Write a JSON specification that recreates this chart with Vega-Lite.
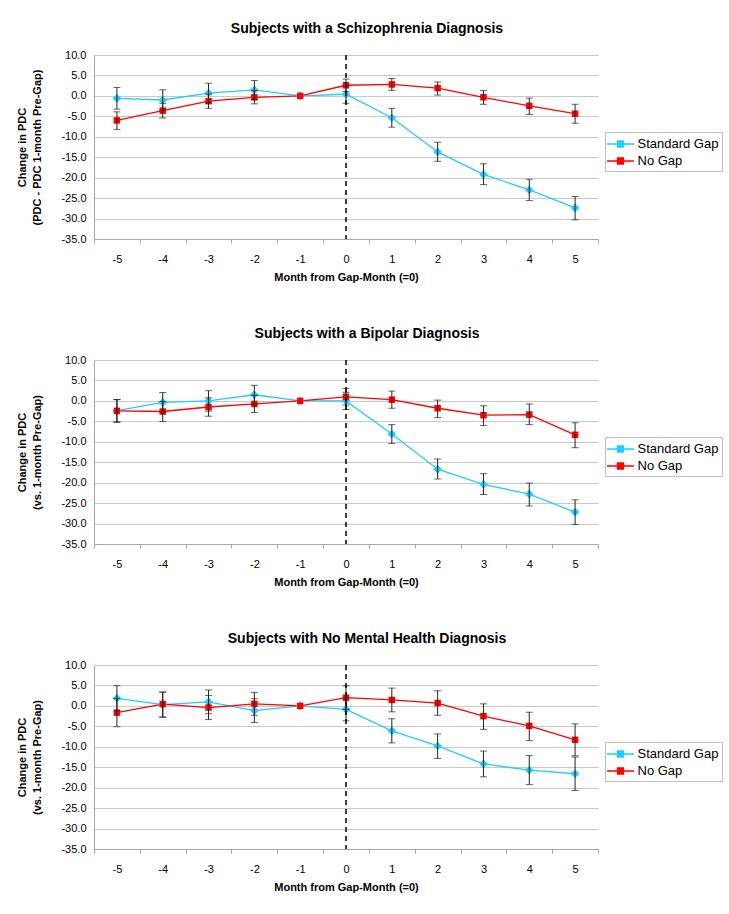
{
  "$schema": "https://vega.github.io/schema/vega-lite/v6.json",
  "background": "white",
  "padding": {"left": 16, "top": 22, "right": 5, "bottom": 5},
  "datasets": {
    "schizo": [
      {"month": -5, "series": "Standard Gap", "pdc": -0.6, "lo": -3.25, "hi": 2.05},
      {"month": -4, "series": "Standard Gap", "pdc": -1.0, "lo": -3.5, "hi": 1.5},
      {"month": -3, "series": "Standard Gap", "pdc": 0.7, "lo": -1.7, "hi": 3.1},
      {"month": -2, "series": "Standard Gap", "pdc": 1.45, "lo": -0.85, "hi": 3.75},
      {"month": -1, "series": "Standard Gap", "pdc": 0.0},
      {"month": 0, "series": "Standard Gap", "pdc": 0.4, "lo": -1.8, "hi": 2.6},
      {"month": 1, "series": "Standard Gap", "pdc": -5.35, "lo": -7.65, "hi": -3.05},
      {"month": 2, "series": "Standard Gap", "pdc": -13.7, "lo": -16.0, "hi": -11.35},
      {"month": 3, "series": "Standard Gap", "pdc": -19.2, "lo": -21.7, "hi": -16.6},
      {"month": 4, "series": "Standard Gap", "pdc": -23.0, "lo": -25.6, "hi": -20.4},
      {"month": 5, "series": "Standard Gap", "pdc": -27.4, "lo": -30.3, "hi": -24.6},
      {"month": -5, "series": "No Gap", "pdc": -6.0, "lo": -8.2, "hi": -3.9},
      {"month": -4, "series": "No Gap", "pdc": -3.6, "lo": -5.4, "hi": -1.8},
      {"month": -3, "series": "No Gap", "pdc": -1.3, "lo": -3.05, "hi": 0.45},
      {"month": -2, "series": "No Gap", "pdc": -0.35, "lo": -1.95, "hi": 1.25},
      {"month": -1, "series": "No Gap", "pdc": 0.0},
      {"month": 0, "series": "No Gap", "pdc": 2.6, "lo": 1.1, "hi": 4.1},
      {"month": 1, "series": "No Gap", "pdc": 2.8, "lo": 1.35, "hi": 4.25},
      {"month": 2, "series": "No Gap", "pdc": 1.9, "lo": 0.2, "hi": 3.4},
      {"month": 3, "series": "No Gap", "pdc": -0.35, "lo": -2.05, "hi": 1.3},
      {"month": 4, "series": "No Gap", "pdc": -2.45, "lo": -4.55, "hi": -0.55},
      {"month": 5, "series": "No Gap", "pdc": -4.35, "lo": -6.7, "hi": -2.05}
    ],
    "bipolar": [
      {"month": -5, "series": "Standard Gap", "pdc": -2.4, "lo": -5.15, "hi": 0.3},
      {"month": -4, "series": "Standard Gap", "pdc": -0.35, "lo": -2.75, "hi": 2.05},
      {"month": -3, "series": "Standard Gap", "pdc": 0.0, "lo": -2.5, "hi": 2.5},
      {"month": -2, "series": "Standard Gap", "pdc": 1.5, "lo": -0.8, "hi": 3.8},
      {"month": -1, "series": "Standard Gap", "pdc": 0.0},
      {"month": 0, "series": "Standard Gap", "pdc": 0.0, "lo": -2.1, "hi": 2.1},
      {"month": 1, "series": "Standard Gap", "pdc": -8.1, "lo": -10.4, "hi": -5.8},
      {"month": 2, "series": "Standard Gap", "pdc": -16.7, "lo": -19.1, "hi": -14.2},
      {"month": 3, "series": "Standard Gap", "pdc": -20.4, "lo": -22.9, "hi": -17.8},
      {"month": 4, "series": "Standard Gap", "pdc": -22.8, "lo": -25.7, "hi": -20.1},
      {"month": 5, "series": "Standard Gap", "pdc": -27.2, "lo": -30.2, "hi": -24.2},
      {"month": -5, "series": "No Gap", "pdc": -2.45, "lo": -5.25, "hi": 0.35},
      {"month": -4, "series": "No Gap", "pdc": -2.6, "lo": -5.05, "hi": -0.15},
      {"month": -3, "series": "No Gap", "pdc": -1.5, "lo": -3.75, "hi": 0.75},
      {"month": -2, "series": "No Gap", "pdc": -0.75, "lo": -2.85, "hi": 1.35},
      {"month": -1, "series": "No Gap", "pdc": 0.0},
      {"month": 0, "series": "No Gap", "pdc": 1.0, "lo": -1.0, "hi": 3.0},
      {"month": 1, "series": "No Gap", "pdc": 0.3, "lo": -1.8, "hi": 2.4},
      {"month": 2, "series": "No Gap", "pdc": -1.8, "lo": -4.1, "hi": 0.2},
      {"month": 3, "series": "No Gap", "pdc": -3.5, "lo": -6.0, "hi": -1.2},
      {"month": 4, "series": "No Gap", "pdc": -3.35, "lo": -5.8, "hi": -0.75},
      {"month": 5, "series": "No Gap", "pdc": -8.3, "lo": -11.45, "hi": -5.35}
    ],
    "nomh": [
      {"month": -5, "series": "Standard Gap", "pdc": 1.85, "lo": -1.25, "hi": 4.95},
      {"month": -4, "series": "Standard Gap", "pdc": 0.3, "lo": -2.8, "hi": 3.4},
      {"month": -3, "series": "Standard Gap", "pdc": 1.0, "lo": -1.9, "hi": 3.9},
      {"month": -2, "series": "Standard Gap", "pdc": -1.15, "lo": -4.05, "hi": 1.75},
      {"month": -1, "series": "Standard Gap", "pdc": 0.0},
      {"month": 0, "series": "Standard Gap", "pdc": -0.85, "lo": -3.65, "hi": 1.95},
      {"month": 1, "series": "Standard Gap", "pdc": -6.1, "lo": -9.05, "hi": -3.15},
      {"month": 2, "series": "Standard Gap", "pdc": -9.8, "lo": -12.85, "hi": -6.85},
      {"month": 3, "series": "Standard Gap", "pdc": -14.2, "lo": -17.35, "hi": -11.05},
      {"month": 4, "series": "Standard Gap", "pdc": -15.7, "lo": -19.25, "hi": -12.15},
      {"month": 5, "series": "Standard Gap", "pdc": -16.6, "lo": -20.7, "hi": -12.5},
      {"month": -5, "series": "No Gap", "pdc": -1.65, "lo": -5.1, "hi": 1.8},
      {"month": -4, "series": "No Gap", "pdc": 0.45, "lo": -2.7, "hi": 3.35},
      {"month": -3, "series": "No Gap", "pdc": -0.4, "lo": -3.35, "hi": 2.55},
      {"month": -2, "series": "No Gap", "pdc": 0.5, "lo": -2.3, "hi": 3.3},
      {"month": -1, "series": "No Gap", "pdc": 0.0},
      {"month": 0, "series": "No Gap", "pdc": 2.0, "lo": -0.85, "hi": 4.9},
      {"month": 1, "series": "No Gap", "pdc": 1.45, "lo": -1.45, "hi": 4.35},
      {"month": 2, "series": "No Gap", "pdc": 0.7, "lo": -2.3, "hi": 3.7},
      {"month": 3, "series": "No Gap", "pdc": -2.5, "lo": -5.75, "hi": 0.5},
      {"month": 4, "series": "No Gap", "pdc": -4.9, "lo": -8.5, "hi": -1.55},
      {"month": 5, "series": "No Gap", "pdc": -8.3, "lo": -12.2, "hi": -4.4}
    ]
  },
  "spacing": 45,
  "resolve": {"scale": {"color": "independent"}, "legend": {"color": "independent"}},
  "vconcat": [
    {
      "width": 504, "height": 184,
      "title": {"text": "Subjects with a Schizophrenia Diagnosis", "fontSize": 14, "fontWeight": "bold", "font": "Liberation Sans", "anchor": "middle", "dx": 21, "offset": 13, "color": "#000"},
      "data": {"name": "schizo"},
      "encoding": {
        "x": {"field": "month", "type": "ordinal", "title": "Month from Gap-Month (=0)", "scale": {"paddingInner": 0, "paddingOuter": 0}},
        "y": {"field": "pdc", "type": "quantitative", "title": ["Change in PDC", "(PDC - PDC 1-month Pre-Gap)"], "scale": {"domain": [-35, 10], "nice": false, "zero": false}, "axis": {"values": [-35, -30, -25, -20, -15, -10, -5, 0, 5, 10], "labelExpr": "replace(format(datum.value, '.1f'), '\u2212', '-')"}},
        "color": {"field": "series", "type": "nominal", "scale": {"domain": ["Standard Gap", "No Gap"], "range": ["#22ccff", "#ff0000"]},
          "legend": {"orient": "none", "legendX": 511, "legendY": 77, "title": null, "strokeColor": "#c0c0c0", "padding": 3, "labelFontSize": 13, "labelFont": "Liberation Sans", "labelColor": "#000", "symbolSize": 256, "labelOffset": 8, "rowPadding": 1, "symbolOffset": 3.5,
            "symbolType": "M-1.69,0H1.69M-0.375,-0.375H0.375V0.375H-0.375Z", "symbolStrokeWidth": 1.3}}
      },
      "layer": [
        {"mark": {"type": "line", "strokeWidth": 1.3}},
        {"transform": [{"filter": "datum.series === 'Standard Gap'"}], "mark": {"type": "point", "shape": "diamond", "filled": true, "opacity": 1, "size": 75}},
        {"transform": [{"filter": "datum.series === 'No Gap'"}], "mark": {"type": "point", "shape": "square", "filled": true, "opacity": 1, "size": 42}},
        {"mark": {"type": "rule", "color": "#222", "strokeWidth": 1}, "encoding": {"color": null, "y": {"field": "lo", "type": "quantitative"}, "y2": {"field": "hi"}}},
        {"mark": {"type": "tick", "color": "#222", "thickness": 1, "size": 7}, "encoding": {"color": null, "y": {"field": "lo", "type": "quantitative"}}},
        {"mark": {"type": "tick", "color": "#222", "thickness": 1, "size": 7}, "encoding": {"color": null, "y": {"field": "hi", "type": "quantitative"}}},
        {"data": {"values": [{"month": 0}]}, "mark": {"type": "rule", "color": "#000", "strokeWidth": 1.5, "strokeDash": [5, 4]}, "encoding": {"y": null, "color": null}}
      ]
    },
    {
      "width": 504, "height": 184,
      "title": {"text": "Subjects with a Bipolar Diagnosis", "fontSize": 14, "fontWeight": "bold", "font": "Liberation Sans", "anchor": "middle", "dx": 21, "offset": 13, "color": "#000"},
      "data": {"name": "bipolar"},
      "encoding": {
        "x": {"field": "month", "type": "ordinal", "title": "Month from Gap-Month (=0)", "scale": {"paddingInner": 0, "paddingOuter": 0}},
        "y": {"field": "pdc", "type": "quantitative", "title": ["Change in PDC", "(vs. 1-month Pre-Gap)"], "scale": {"domain": [-35, 10], "nice": false, "zero": false}, "axis": {"values": [-35, -30, -25, -20, -15, -10, -5, 0, 5, 10], "labelExpr": "replace(format(datum.value, '.1f'), '\u2212', '-')"}},
        "color": {"field": "series", "type": "nominal", "scale": {"domain": ["Standard Gap", "No Gap"], "range": ["#22ccff", "#ff0000"]},
          "legend": {"orient": "none", "legendX": 511, "legendY": 77, "title": null, "strokeColor": "#c0c0c0", "padding": 3, "labelFontSize": 13, "labelFont": "Liberation Sans", "labelColor": "#000", "symbolSize": 256, "labelOffset": 8, "rowPadding": 1, "symbolOffset": 3.5,
            "symbolType": "M-1.69,0H1.69M-0.375,-0.375H0.375V0.375H-0.375Z", "symbolStrokeWidth": 1.3}}
      },
      "layer": [
        {"mark": {"type": "line", "strokeWidth": 1.3}},
        {"transform": [{"filter": "datum.series === 'Standard Gap'"}], "mark": {"type": "point", "shape": "diamond", "filled": true, "opacity": 1, "size": 75}},
        {"transform": [{"filter": "datum.series === 'No Gap'"}], "mark": {"type": "point", "shape": "square", "filled": true, "opacity": 1, "size": 42}},
        {"mark": {"type": "rule", "color": "#222", "strokeWidth": 1}, "encoding": {"color": null, "y": {"field": "lo", "type": "quantitative"}, "y2": {"field": "hi"}}},
        {"mark": {"type": "tick", "color": "#222", "thickness": 1, "size": 7}, "encoding": {"color": null, "y": {"field": "lo", "type": "quantitative"}}},
        {"mark": {"type": "tick", "color": "#222", "thickness": 1, "size": 7}, "encoding": {"color": null, "y": {"field": "hi", "type": "quantitative"}}},
        {"data": {"values": [{"month": 0}]}, "mark": {"type": "rule", "color": "#000", "strokeWidth": 1.5, "strokeDash": [5, 4]}, "encoding": {"y": null, "color": null}}
      ]
    },
    {
      "width": 504, "height": 184,
      "title": {"text": "Subjects with No Mental Health Diagnosis", "fontSize": 14, "fontWeight": "bold", "font": "Liberation Sans", "anchor": "middle", "dx": 21, "offset": 13, "color": "#000"},
      "data": {"name": "nomh"},
      "encoding": {
        "x": {"field": "month", "type": "ordinal", "title": "Month from Gap-Month (=0)", "scale": {"paddingInner": 0, "paddingOuter": 0}},
        "y": {"field": "pdc", "type": "quantitative", "title": ["Change in PDC", "(vs. 1-month Pre-Gap)"], "scale": {"domain": [-35, 10], "nice": false, "zero": false}, "axis": {"values": [-35, -30, -25, -20, -15, -10, -5, 0, 5, 10], "labelExpr": "replace(format(datum.value, '.1f'), '\u2212', '-')"}},
        "color": {"field": "series", "type": "nominal", "scale": {"domain": ["Standard Gap", "No Gap"], "range": ["#22ccff", "#ff0000"]},
          "legend": {"orient": "none", "legendX": 511, "legendY": 77, "title": null, "strokeColor": "#c0c0c0", "padding": 3, "labelFontSize": 13, "labelFont": "Liberation Sans", "labelColor": "#000", "symbolSize": 256, "labelOffset": 8, "rowPadding": 1, "symbolOffset": 3.5,
            "symbolType": "M-1.69,0H1.69M-0.375,-0.375H0.375V0.375H-0.375Z", "symbolStrokeWidth": 1.3}}
      },
      "layer": [
        {"mark": {"type": "line", "strokeWidth": 1.3}},
        {"transform": [{"filter": "datum.series === 'Standard Gap'"}], "mark": {"type": "point", "shape": "diamond", "filled": true, "opacity": 1, "size": 75}},
        {"transform": [{"filter": "datum.series === 'No Gap'"}], "mark": {"type": "point", "shape": "square", "filled": true, "opacity": 1, "size": 42}},
        {"mark": {"type": "rule", "color": "#222", "strokeWidth": 1}, "encoding": {"color": null, "y": {"field": "lo", "type": "quantitative"}, "y2": {"field": "hi"}}},
        {"mark": {"type": "tick", "color": "#222", "thickness": 1, "size": 7}, "encoding": {"color": null, "y": {"field": "lo", "type": "quantitative"}}},
        {"mark": {"type": "tick", "color": "#222", "thickness": 1, "size": 7}, "encoding": {"color": null, "y": {"field": "hi", "type": "quantitative"}}},
        {"data": {"values": [{"month": 0}]}, "mark": {"type": "rule", "color": "#000", "strokeWidth": 1.5, "strokeDash": [5, 4]}, "encoding": {"y": null, "color": null}}
      ]
    }
  ],
  "config": {
    "font": "Liberation Sans",
    "view": {"stroke": null},
    "axis": {"labelFont": "Liberation Sans", "labelFontSize": 11, "labelColor": "#000", "titleFont": "Liberation Sans", "titleFontSize": 11, "titleFontWeight": "bold", "titleColor": "#000", "gridColor": "#c8c8c8", "domainColor": "#a6a6a6", "tickColor": "#a6a6a6"},
    "axisX": {"grid": false, "tickBand": "extent", "tickSize": 4, "labelPadding": 10, "titlePadding": 7, "labelAngle": 0},
    "axisY": {"grid": true, "ticks": false, "labelPadding": 8, "titlePadding": 18, "titleLineHeight": 15}
  }
}
